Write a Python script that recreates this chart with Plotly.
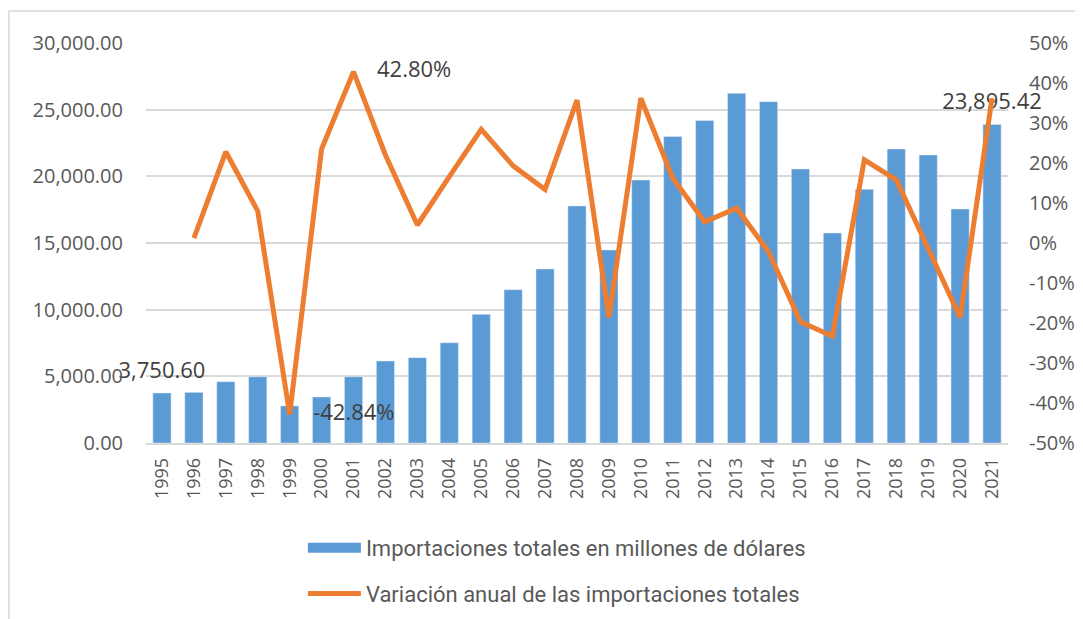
import plotly.graph_objects as go

years = [str(y) for y in range(1995, 2022)]
imports = [3750.60, 3800, 4600, 4970, 2780, 3450, 4970, 6150, 6400, 7520,
           9650, 11500, 13050, 17780, 14480, 19730, 22980, 24180, 26230, 25600,
           20550, 15750, 19030, 22050, 21600, 17550, 23895.42]
variation = [None, 1.2, 22.8, 8.0, -42.84, 23.5, 42.80, 22.0, 4.5, 16.6,
             28.4, 19.3, 13.4, 35.7, -18.6, 36.2, 16.2, 5.3, 8.7, -2.2,
             -19.7, -23.3, 20.8, 15.8, -1.5, -18.6, 36.2]

bar_label_idx = [0, 26]
line_label_idx = [4, 6]

bar_name = "Importaciones totales en millones de dólares"
line_name = "Variación anual de las importaciones totales"

BLUE = "#5B9BD5"
ORANGE = "#ED7D31"
LABEL_FONT = dict(size=22, color="#404040", family="Open Sans")

fig = go.Figure()
fig.add_trace(go.Bar(
    x=years, y=imports, name=bar_name, marker_color=BLUE, showlegend=False,
))
fig.add_trace(go.Scatter(
    x=years, y=variation, name=line_name, yaxis="y2", mode="lines",
    line=dict(color=ORANGE, width=5), showlegend=False,
))
# data labels
fig.add_trace(go.Scatter(
    x=[years[i] for i in bar_label_idx], y=[imports[i] for i in bar_label_idx],
    text=[f"{imports[i]:,.2f}" for i in bar_label_idx],
    mode="markers+text", textposition="top center",
    marker=dict(size=14, opacity=0), textfont=LABEL_FONT,
    cliponaxis=False, showlegend=False, hoverinfo="skip",
))
fig.add_trace(go.Scatter(
    x=[years[i] for i in line_label_idx], y=[variation[i] for i in line_label_idx],
    text=[f"{variation[i]:.2f}%" for i in line_label_idx], yaxis="y2",
    mode="markers+text", textposition="middle right",
    marker=dict(size=36, opacity=0), textfont=LABEL_FONT,
    cliponaxis=False, showlegend=False, hoverinfo="skip",
))
# legend entries
fig.add_trace(go.Scatter(x=[None], y=[None], mode="lines", name=bar_name,
                         line=dict(color=BLUE, width=12), legendgroup="a"))
fig.add_trace(go.Scatter(x=[None], y=[None], mode="lines", name=line_name,
                         line=dict(color=ORANGE, width=5), legendgroup="b"))

fig.add_shape(type="rect", xref="paper", yref="paper",
              x0=-0.159, y0=-0.5, x1=1.2, y1=1.08,
              line=dict(color="#D9D9D9", width=1.5), fillcolor="rgba(0,0,0,0)",
              layer="below")

fig.update_layout(
    width=1083, height=619,
    margin=dict(l=138, r=83, t=35, b=184),
    paper_bgcolor="white", plot_bgcolor="white",
    bargap=0.43,
    font=dict(family="Open Sans", color="#595959"),
    xaxis=dict(type="category", range=[-0.5, 26.5], tickangle=-90, showgrid=False,
               tickfont=dict(size=18, color="#595959"),
               showline=True, linecolor="#D9D9D9", linewidth=1.5,
               ticks="", ticklabelstandoff=6),
    yaxis=dict(range=[0, 30000], tickvals=[0, 5000, 10000, 15000, 20000, 25000, 30000],
               ticktext=["0.00", "5,000.00", "10,000.00", "15,000.00", "20,000.00",
                         "25,000.00", "30,000.00"],
               showgrid=True, gridcolor="#D9D9D9", gridwidth=1.5,
               zeroline=False, tickfont=dict(size=20, color="#595959"),
               ticklabelstandoff=22),
    yaxis2=dict(range=[-50, 50], overlaying="y", side="right",
                tickvals=list(range(-50, 51, 10)),
                ticktext=[f"{v}%" for v in range(-50, 51, 10)],
                showgrid=False, zeroline=False,
                tickfont=dict(size=20, color="#595959"),
                ticklabelstandoff=20),
    legend=dict(orientation="v", x=0.182, xanchor="left", y=-0.21, yanchor="top",
                font=dict(size=22, color="#595959", family="Liberation Sans Narrow, Roboto"),
                tracegroupgap=14, itemwidth=53),
    showlegend=True,
)

fig.write_html("out.html")
